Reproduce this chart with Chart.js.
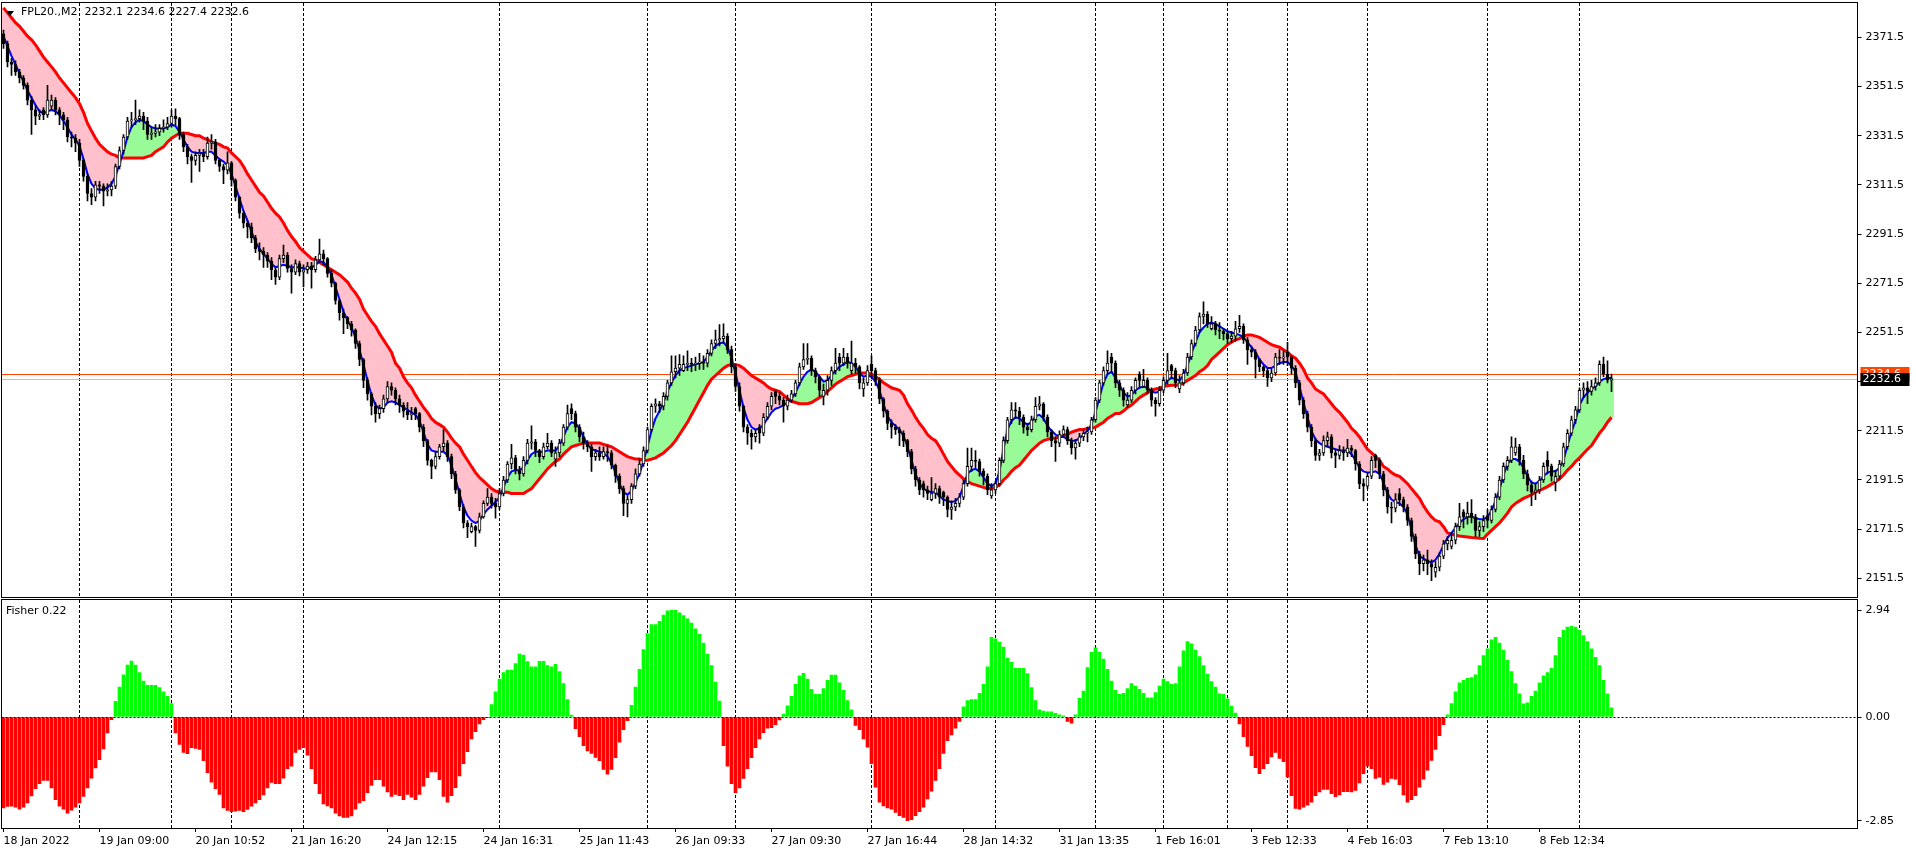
<!DOCTYPE html>
<html><head><meta charset="utf-8">
<script src="https://cdn.jsdelivr.net/npm/chart.js@4.4.0/dist/chart.umd.min.js"></script>
<style>
html,body{margin:0;padding:0;background:#fff;width:1916px;height:854px;overflow:hidden;}
#main{position:absolute;left:0;top:0;width:1916px;height:600px;}
#ind{position:absolute;left:0;top:598px;width:1916px;height:256px;}
.lbl{position:absolute;font:11px "DejaVu Sans",sans-serif;color:#000;white-space:pre;line-height:13px;}
#tri{position:absolute;left:6px;top:11px;width:0;height:0;border-left:4px solid transparent;border-right:4px solid transparent;border-top:5px solid #000;}
</style></head><body>
<canvas id="main" width="1916" height="600"></canvas>
<canvas id="ind" width="1916" height="256"></canvas>
<div id="tri"></div>
<div class="lbl" style="left:21px;top:5px;">FPL20.,M2  2232.1 2234.6 2227.4 2232.6</div>
<div class="lbl" style="left:6px;top:604px;">Fisher 0.22</div>
<script>
const timeLabels = ['18 Jan 2022','19 Jan 09:00','20 Jan 10:52','21 Jan 16:20','24 Jan 12:15','24 Jan 16:31','25 Jan 11:43','26 Jan 09:33','27 Jan 09:30','27 Jan 16:44','28 Jan 14:32','31 Jan 13:35','1 Feb 16:01','3 Feb 12:33','4 Feb 16:03','7 Feb 13:10','8 Feb 12:34'];
const labelBars = [0,24,48,72,96,120,144,168,192,216,240,264,288,312,336,360,384];
const daySeparators = [19,42,57,75,124,161,183,217,248,273,290,306,321,341,371,394];
const totalSlots = 464;
const priceTicks = [2371.5,2351.5,2331.5,2311.5,2291.5,2271.5,2251.5,2231.5,2211.5,2191.5,2171.5,2151.5];
const fisherTicks = [2.94,0.00,-2.85];
const bidPrice = 2232.6, askPrice = 2234.6;

const open = [2373,2369,2361.5,2360.5,2357.5,2355,2352,2346,2342,2339.5,
2342,2340,2343.5,2346,2342,2340,2338,2331,2330.5,2328.5,
2321.5,2315,2308,2306.5,2311.5,2311,2309,2309.5,2311,2319,
2325.5,2331,2337.5,2338,2338.5,2339.5,2337.5,2332,2332.5,2333,
2334.5,2335,2336.5,2339.5,2338.5,2332,2327,2323,2321.5,2323.5,
2324.5,2323,2328.5,2329,2321.5,2319,2317.5,2320.5,2313.5,2306.5,
2300,2296,2294.5,2290,2285.5,2284.5,2283,2280.5,2277,2274,
2281.5,2283,2277.5,2276,2279.5,2276,2277,2278.5,2277,2281,
2283.5,2281.5,2275.5,2271.5,2264.5,2259.5,2257.5,2255,2252.5,2247,
2240.5,2232,2226.5,2221.5,2218.5,2220.5,2224.5,2229.5,2228,2224.5,
2222,2219.5,2218,2220.5,2218.5,2213,2207.5,2199.5,2197,2201,
2205,2206.5,2201,2194,2187.5,2180.5,2174,2170.5,2172.5,2171,
2176.5,2182,2184.5,2182,2180.5,2186,2191.5,2198,2200.5,2195.5,
2194,2199.5,2206.5,2207,2203.5,2201,2205,2206.5,2200,2202.5,
2206.5,2213,2220.5,2218.5,2213,2209,2206.5,2205,2201,2202.5,
2201,2203,2202.5,2197.5,2193,2188,2182,2183.5,2189,2194,
2198,2203.5,2212,2221.5,2222.5,2221.5,2225.5,2231,2235.5,2237,
2236,2238.5,2239,2238.5,2239,2239.5,2239,2243,2247,2248.5,
2249,2250,2244.5,2237.5,2229.5,2221.5,2213,2210.5,2209,2213,
2210.5,2217,2221.5,2227.5,2225.5,2224,2221.5,2224,2226.5,2231,
2237.5,2240.5,2241,2236,2233.5,2225.5,2228,2232,2236,2241.5,
2239,2241.5,2236,2239,2237.5,2228.5,2231,2238.5,2236,2232,
2224.5,2219.5,2214.5,2213,2212,2210.5,2207.5,2203,2196,2191.5,
2190,2187.5,2183.5,2186,2188,2186.5,2184.5,2179.5,2180.5,2182,
2184.5,2190,2197,2199.5,2199,2195,2193,2185,2187.5,2190,
2199.5,2207.5,2216,2220,2219.5,2217,2213,2212,2216,2221.5,
2222.5,2217,2211,2207.5,2206.5,2210,2212,2207.5,2204.5,2206.5,
2209,2210.5,2211,2216,2224,2231,2236,2241.5,2239,2231,
2228,2222,2224,2228,2234.5,2229.5,2232,2228,2224,2222.5,
2228,2232,2238,2236,2228.5,2231,2235,2241.5,2247,2252.5,
2258,2259,2253,2255,2252.5,2252,2251,2249,2250,2253,
2254,2248.5,2244.5,2243.5,2240.5,2237.5,2236,2233,2235,2241.5,
2241,2243.5,2241.5,2237,2231,2224,2218.5,2213,2207.5,2201.5,
2202.5,2207.5,2209,2202.5,2201.5,2203.5,2202.5,2204.5,2203.5,2198,
2190,2189,2193,2201.5,2199.5,2194,2187.5,2180.5,2180,2186,
2183.5,2180.5,2175,2168.5,2161.5,2157.5,2159,2157.5,2154,2156,
2160.5,2165.5,2164.5,2167,2172.5,2178.5,2176.5,2178,2176.5,2171,
2172.5,2177,2175,2179.5,2184.5,2191.5,2197,2199.5,2202.5,2205,
2199.5,2194,2189.5,2186.5,2187.5,2191.5,2199.5,2197,2190.5,2193,
2198,2205,2210.5,2216,2220,2228,2229,2227.5,2229.5,2231,
2238.5,2234.5,2232.1];

const high = [2374.5,2370,2363,2362,2358.5,2356,2353,2347.5,2344,2342,
2343,2352,2348,2347,2343,2341,2339,2333,2332,2330,
2322,2316,2310,2313,2313,2312,2312,2313,2320,2327,
2332,2339,2341,2346,2342,2341,2339,2335,2336,2336,
2338,2339,2342,2342.5,2339,2333,2328,2324,2325,2326,
2326,2331,2332,2330,2322,2320,2325,2321,2314,2307,
2301,2297,2296,2291,2288,2286,2284,2282,2278,2283,
2287,2284,2279,2281,2280.5,2279,2280,2280,2282.5,2289.5,
2285,2282,2277,2272,2265,2261,2258,2256,2253,2248,
2241,2233,2227,2223,2222,2226,2231.5,2231,2229,2226,
2223,2223,2221,2221,2219,2214,2208,2200,2203,2206,
2212,2207.5,2202,2195,2188,2181.5,2175,2174,2173,2178,
2183,2188,2186,2184,2188,2193,2199,2206,2201.5,2197,
2201,2208,2213.5,2208,2204,2206.5,2210.5,2207.5,2205,2208,
2214,2222,2222.5,2219.5,2214,2211,2207.5,2206,2204,2205,
2205,2205.5,2203.5,2198,2194,2189,2185,2190,2196,2200,
2205,2213,2222.5,2224.5,2223.5,2227,2232,2242,2242,2242.5,
2242,2244,2241,2241.5,2243,2242,2244.5,2248.5,2252.5,2254.7,
2255,2251,2246,2238.5,2231,2222,2214,2212,2212,2214,
2218.5,2223,2227,2228,2227,2225,2226,2228,2232,2239,
2247,2247,2242,2237,2234,2230.5,2234,2237.5,2245,2243,
2245,2243,2248,2241,2238,2233,2238,2242,2237,2233,
2225,2220,2216,2214,2213,2211.5,2208,2204,2197,2192.5,
2191,2189,2192.5,2190,2189,2187,2185,2183,2184,2186,
2191.5,2204.5,2204.5,2203.5,2200,2196,2194,2190,2191,2200.5,
2209,2217,2223,2223,2221,2218,2214.5,2217.5,2225,2225.5,
2223,2218,2212,2209,2211.5,2213.5,2213,2208.5,2208,2210.5,
2212,2213,2217,2225,2232,2237.5,2244,2243,2240,2232,
2229,2227,2229.5,2233,2235.5,2236.5,2233,2229,2225,2229.5,
2233.5,2243,2238.5,2237,2234,2236.5,2243,2248.5,2254,2259.5,
2264,2260,2258,2256,2255.5,2253,2252,2252,2256,2258.5,
2255,2249.5,2246,2244.5,2241,2238,2237,2236.5,2243,2244.5,
2244,2247.5,2242,2238,2232,2225,2219.5,2214,2208.5,2204,
2209.5,2211,2210,2204,2205.5,2205,2208,2205.5,2204,2199,
2192,2194.5,2201,2202,2200.5,2195,2188.5,2182.5,2186,2188,
2184.5,2181.5,2176,2169.5,2162.5,2161,2163,2159,2158.5,2162,
2167,2168.5,2170,2174,2182,2179.5,2182.5,2183.5,2177.5,2174.5,
2177,2179.5,2181,2186,2193,2198.5,2201,2209,2208.5,2206,
2201.5,2195.5,2191,2190,2193,2198.5,2203,2198,2195.5,2199.5,
2206.5,2212,2217.5,2221.5,2229,2231,2231.5,2232,2233,2240,
2241.5,2240,2234.6];

const low = [2367,2359.5,2356,2356,2353,2350.5,2344,2332,2336,2338,
2338,2339,2342,2340,2336,2334,2329,2327,2325,2319,
2313,2305,2303.5,2305,2308,2303,2307,2307,2310,2318,
2324,2330,2335,2336,2337,2334,2330,2330,2331,2331.5,
2333,2334,2335,2336,2330,2325,2320,2312.5,2319.5,2317,
2321,2322,2326,2320,2317,2312,2316,2311,2305,2298,
2294,2290,2288,2284,2281,2278,2278,2273,2271,2273,
2280,2276,2267.5,2275,2274.5,2270,2275.5,2269.5,2276,2280,
2279,2274,2270,2263,2256.5,2251,2253,2250,2245,2238,
2229,2224,2218,2215,2216.5,2219,2223,2226,2222,2219,
2217,2216,2216,2216,2211,2205,2197.5,2192,2196,2200,
2203,2199,2192,2186,2179,2172,2168,2170,2164.5,2170,
2176,2181,2180,2176,2179.5,2185,2190.5,2196,2194,2191.5,
2193,2198,2204,2201,2198.5,2200,2204,2201,2197,2201,
2205.5,2212,2216,2211,2207,2204,2203,2195,2199.5,2199.5,
2200,2199,2196,2190.5,2186,2177,2176.5,2182,2188,2193,
2197,2202.5,2211,2219,2219,2220,2224,2230,2233,2234,
2235.5,2236,2235.5,2236,2236.5,2236.5,2237.5,2242,2245,2246,
2247,2243,2235,2227.5,2219.5,2211,2206,2204,2207,2206.5,
2209.5,2216,2220,2222.5,2222,2215,2220,2223,2225.5,2230,
2236.5,2238.5,2234,2231,2225.5,2222,2226,2230,2234.5,2236,
2238,2237,2234.5,2235,2228.5,2225.5,2230,2233,2230,2222.5,
2217,2212,2208.5,2210,2205.5,2205,2201,2194,2189,2185.5,
2184.5,2183.5,2183,2184,2182,2181,2176.5,2175.5,2179,2180.5,
2183.5,2189,2195,2196.5,2193,2189.5,2185.5,2184,2186,2189,
2198.5,2206.5,2214.5,2216.5,2214,2210.5,2209.5,2211,2215,2220,
2215.5,2209,2205,2199,2205,2209,2206,2202,2200,2205,
2207.5,2207,2210,2215,2223,2230,2234.5,2235,2229,2225.5,
2221.5,2221,2223,2226.5,2229,2229,2226.5,2221.5,2217.5,2221.5,
2227,2230.5,2233,2229,2227,2230,2234,2240.5,2246,2251.5,
2255,2253.5,2252.5,2250.5,2249,2248.5,2247,2247.5,2248,2251.5,
2247,2238.5,2241.5,2233,2235.5,2233.5,2229.5,2231.5,2234,2238.5,
2238.5,2238,2234.5,2229,2222,2216.5,2211,2205,2199.5,2199.5,
2201.5,2205,2200.5,2196.5,2200,2199.5,2201,2201,2195.5,2188,
2183,2188,2192,2196.5,2192,2185,2178,2174,2178.5,2181,
2178.5,2173,2166.5,2159.5,2153,2154.5,2153,2150.5,2152,2154.5,
2159.5,2163,2163.5,2165.5,2171,2172,2173.5,2174,2168.5,2168.5,
2170.5,2172,2174,2178.5,2183.5,2190.5,2195.5,2198.5,2201.5,2197.5,
2192,2187,2181,2183.5,2186,2190.5,2194,2191,2187,2191.5,
2197,2204,2209.5,2214.5,2219,2225,2222.5,2226,2228,2230,
2233.5,2231,2227.4];

const close = [2369,2361.5,2360.5,2357.5,2355,2352,2346,2342,2339.5,2340,
2340,2346,2346,2342,2340,2338,2331,2330.5,2328.5,2321.5,
2315,2308,2306.5,2311.5,2311,2309,2309.5,2311,2319,2325.5,
2331,2337.5,2338,2338.5,2339.5,2337.5,2332,2332.5,2333,2334.5,
2335,2336.5,2339.5,2338.5,2332,2327,2323,2321.5,2323.5,2324.5,
2323,2328.5,2329,2321.5,2319,2317.5,2320.5,2313.5,2306.5,2300,
2296,2294.5,2290,2285.5,2284.5,2283,2280.5,2277,2274,2281.5,
2283,2277.5,2276,2279.5,2276,2277,2278.5,2277,2281,2283.5,
2281.5,2275.5,2271.5,2264.5,2259.5,2257.5,2255,2252.5,2247,2240.5,
2232,2226.5,2221.5,2218.5,2220.5,2224.5,2229.5,2228,2224.5,2222,
2219.5,2218,2218.5,2218.5,2213,2207.5,2199.5,2197,2201,2205,
2206.5,2201,2194,2187.5,2180.5,2174,2172.5,2172.5,2171,2176.5,
2182,2184.5,2182,2180.5,2186,2191.5,2198,2200.5,2195.5,2194,
2199.5,2206.5,2207,2203.5,2201,2205,2206.5,2202.5,2202.5,2206.5,
2213,2218.5,2218.5,2213,2209,2206.5,2205,2201,2202.5,2201,
2203,2202.5,2197.5,2193,2188,2182,2183.5,2189,2194,2198,
2203.5,2212,2221.5,2222.5,2221.5,2225.5,2231,2235.5,2237,2238.5,
2238.5,2239,2238.5,2239,2239.5,2239,2243,2247,2248.5,2249,
2250,2244.5,2237.5,2229.5,2221.5,2213,2210.5,2209,2210.5,2210.5,
2217,2221.5,2225.5,2225.5,2224,2221.5,2224,2226.5,2231,2237.5,
2240.5,2241,2236,2233.5,2228,2228,2232,2236,2239,2239,
2241.5,2239,2239,2237.5,2231,2231,2236,2236,2232,2224.5,
2219.5,2214.5,2213,2212,2210.5,2207.5,2203,2196,2191.5,2187.5,
2187.5,2186,2186,2188,2184.5,2184.5,2179.5,2180.5,2182,2184.5,
2190,2197,2199.5,2199,2195,2193,2187.5,2187.5,2190,2199.5,
2207.5,2216,2220,2219.5,2217,2213,2212,2216,2221.5,2222.5,
2217,2211,2207.5,2206.5,2210,2212,2207.5,2204.5,2206.5,2209,
2210.5,2211,2216,2224,2231,2236,2239,2239,2231,2228,
2224,2224,2228,2232,2232,2232,2228,2224,2222.5,2228,
2232,2236,2236,2231,2231,2235,2241.5,2247,2252.5,2258,
2259,2255,2255,2252.5,2252,2251,2249,2250,2253,2254,
2248.5,2244.5,2243.5,2240.5,2237.5,2236,2233,2235,2241.5,2241,
2241.5,2241.5,2237,2231,2224,2218.5,2213,2207.5,2201.5,2202.5,
2207.5,2209,2202.5,2201.5,2203.5,2202.5,2204.5,2203.5,2198,2190,
2189,2193,2199.5,2199.5,2194,2187.5,2180.5,2180,2183.5,2183.5,
2180.5,2175,2168.5,2161.5,2157.5,2159,2157.5,2156,2156,2160.5,
2165.5,2167,2167,2172.5,2176.5,2176.5,2178,2176.5,2171,2172.5,
2175,2175,2179.5,2184.5,2191.5,2197,2199.5,2205,2205,2199.5,
2194,2189.5,2186.5,2187.5,2191.5,2197,2197,2193,2193,2198,
2205,2210.5,2216,2220,2228,2229,2227.5,2229.5,2231,2238.5,
2234.5,2232.1,2232.6];

const fast = [2372,2368,2364,2360.5,2357,2353.5,2350,2347,2344,2341.5,
2340.5,2341.5,2342,2341.5,2340,2337.5,2335,2332,2330,2327.5,
2322,2316,2312,2310,2309.5,2309.5,2310.5,2312,2315,2320,
2325,2331,2335,2337,2338,2337.5,2336,2335,2334.5,2334.5,
2334.5,2335,2336,2335.5,2333,2330,2327,2325,2324.5,2324.5,
2324.5,2325,2325,2323.5,2322,2321,2319.5,2316,2311,2306,
2301,2297,2292.5,2288.5,2285.5,2283.5,2281.5,2279.5,2278,2278.5,
2279,2278.5,2278,2278,2278,2277.5,2277.5,2278,2279,2280.5,
2280,2278,2275,2270,2265,2260,2256.5,2253.5,2249.5,2244.5,
2238.5,2232,2226,2222,2220.5,2221,2223,2223.5,2223,2222,
2221,2220,2219,2218,2215.5,2211,2206,2203.5,2203,2203,
2203,2201.5,2197.5,2192,2186,2180.5,2177,2175,2174,2175,
2177.5,2179.5,2181,2182.5,2184.5,2188.5,2192.5,2195,2195.5,2195.5,
2196.5,2199.5,2202,2203,2203,2203,2203.5,2203.5,2203.5,2205.5,
2209,2213,2215,2214.5,2212.5,2209,2206,2204,2203.5,2203,
2202.5,2201,2198.5,2194.5,2190,2186.5,2185.5,2187,2190.5,2194,
2199,2205,2211.5,2216.5,2219.5,2223,2227.5,2231,2234,2236,
2237,2237.5,2238,2238.5,2239,2239.5,2241.5,2244,2246,2247,
2247.5,2245.5,2241,2235,2228,2221,2216,2213,2212,2212.5,
2214,2216.5,2219,2220.5,2221,2222,2223,2224.5,2227,2230.5,
2233.5,2235.5,2236.5,2235.5,2233.5,2231.5,2232,2234,2236,2237.5,
2238.5,2239.5,2239,2237.5,2235,2233.5,2234,2233.5,2231.5,2228,
2222.5,2217.5,2215,2213.5,2212,2209.5,2205,2199.5,2194,2190,
2188,2187,2186.5,2186.5,2185,2183.5,2183,2182.5,2183,2184.5,
2189,2194,2195.5,2196,2195,2192.5,2190,2189,2190,2195,
2204,2212,2215.5,2217,2216.5,2215,2214,2215,2217.5,2218,
2216.5,2213.5,2211.5,2210,2209,2209,2208,2207.5,2207.5,2208.5,
2210,2211.5,2214,2219,2225,2231,2234.5,2235.5,2233,2230,
2227,2225.5,2226,2228,2229,2229.5,2229,2227.5,2227,2227.5,
2229.5,2232,2233,2232.5,2232,2234,2238,2243,2247.5,2251.5,
2253.5,2255,2255.5,2255,2254,2253,2252,2251.5,2251,2250.5,
2249.5,2247.5,2245.5,2243.5,2240.5,2238.5,2237,2237,2238,2239,
2239.5,2239.5,2238,2235.5,2229.5,2223,2217,2211.5,2208,2206.5,
2205.5,2205,2204.5,2204,2203.5,2203.5,2203.5,2202,2199.5,2196.5,
2195,2194.5,2194.5,2195,2194,2190.5,2186,2183.5,2182.5,2182,
2180.5,2177.5,2171.5,2165,2160.5,2159.5,2158.5,2158,2159,2161.5,
2165,2168,2170,2172,2174,2175.5,2176.5,2176.5,2176,2175.5,
2175.5,2176.5,2179,2183,2187.5,2193.5,2198,2200,2200,2199,
2196.5,2193,2190.5,2190,2191,2193,2194.5,2195,2195,2196.5,
2199.5,2205.5,2211,2215.5,2222,2225,2227,2228.5,2229.5,2231.5,
2232.5,2233,2233];

const slow = [2383.5,2381.5,2379.5,2377.5,2376,2374,2372,2370.5,2368.5,2366,
2363.5,2361.5,2359.5,2357.5,2355,2353,2351,2349,2347,2344.5,
2341,2336.5,2333.5,2330.5,2328,2326.5,2325,2324,2323.5,2322.5,
2322.5,2322.5,2322.5,2322.5,2322.5,2322.5,2323,2323.5,2325,2326,
2327,2329,2330.5,2331.5,2332.5,2332.5,2332.5,2332,2331.5,2331.5,
2330.5,2330,2329,2328.5,2328,2327,2326.5,2324.5,2323,2321.5,
2319,2316,2313.5,2311,2308.5,2307,2304.5,2302,2300,2298.5,
2296,2293,2290.5,2288.5,2286,2284.5,2283,2281.5,2281,2280,
2279,2278,2277,2276,2275,2273.5,2272,2269.5,2267.5,2265,
2261,2258.5,2256,2254,2251,2248.5,2246,2243.5,2239,2237,
2233.5,2231,2229,2226,2223.5,2221,2219,2216.5,2215,2214,
2213,2211,2208.5,2206.5,2205,2202,2199.5,2197,2194.5,2192.5,
2191,2189.5,2188,2187,2186.5,2186.5,2186.5,2186,2186,2186,
2186,2187,2188,2190,2192,2194,2196,2197.5,2199,2200,
2202,2203.5,2205,2205.5,2206,2206.5,2206.5,2206.5,2206.5,2206.5,
2206,2205.5,2205,2204,2203,2202,2201,2200.5,2200,2200,
2199.5,2199.5,2200,2200.5,2201.5,2202.5,2204,2205.5,2207.5,2210,
2212.5,2215,2218,2221,2224,2227,2230,2232.5,2234,2235.5,
2237,2238,2238.5,2238.5,2238,2237,2235.5,2234,2233,2232,
2231,2229.5,2228.5,2228,2227.5,2226,2224.5,2223.5,2223,2222.5,
2222.5,2222.5,2223,2224,2225,2226,2227.5,2229,2230.5,2231.5,
2232.5,2233.5,2234,2234.5,2235,2235,2235,2234.5,2233.5,2232.5,
2231,2230,2229,2228.5,2228,2226,2222.5,2220,2217,2214.5,
2212.5,2210,2208.5,2207.5,2205,2202,2199,2197,2195,2193.5,
2192,2191,2190,2189.5,2189,2188.5,2188,2188,2188.5,2189.5,
2191.5,2193,2195,2196.5,2197.5,2199.5,2201.5,2203.5,2205,2206.5,
2207.5,2208,2208.5,2208.5,2209,2209.5,2210,2211,2211.5,2212,
2212,2212.5,2212.5,2213,2214,2215,2216.5,2217.5,2218.5,2218.5,
2219.5,2221,2222,2223.5,2225,2226,2227,2228,2228.5,2228.8,
2229.5,2229.8,2230,2230,2230.2,2231,2232,2233,2234,2235.5,
2236.5,2238,2240.5,2242,2243.5,2245,2246.5,2247.5,2248.5,2249,
2250,2250.5,2250.5,2250,2249.5,2248.5,2247.5,2246.5,2246,2245.5,
2244.5,2243.5,2242,2241,2239,2236.5,2233,2231,2228.5,2227.5,
2226.5,2224.5,2222.5,2220.5,2219,2217,2215,2212.5,2211,2209,
2206.5,2204,2202.5,2201,2199.5,2197,2196,2194.5,2193.5,2193,
2191.5,2190,2188,2186,2184,2181,2178.5,2176.5,2175,2174.5,
2172.5,2170,2169.5,2169,2168.7,2168.5,2168.3,2168.1,2168,2167.8,
2167.7,2169.5,2171,2172.5,2174,2176,2178,2180.5,2182,2183,
2184,2184.7,2185.5,2186.5,2187.3,2188,2188.8,2189.8,2190.8,2192,
2193.5,2195.5,2197,2199,2200.5,2202.3,2204,2205.5,2208,2210.5,
2212.5,2215,2217];

const fisher = [-2.50,-2.46,-2.45,-2.48,-2.53,-2.48,-2.36,-2.17,-1.97,-1.83,
-1.74,-1.74,-1.95,-2.27,-2.45,-2.53,-2.64,-2.56,-2.48,-2.36,
-2.18,-1.95,-1.68,-1.40,-1.17,-0.88,-0.44,-0.07,0.43,0.82,
1.16,1.43,1.54,1.43,1.22,0.99,0.87,0.87,0.87,0.81,
0.69,0.57,0.37,-0.44,-0.75,-0.97,-1.01,-0.84,-0.86,-0.89,
-1.20,-1.53,-1.79,-1.97,-2.13,-2.50,-2.57,-2.60,-2.59,-2.57,
-2.60,-2.54,-2.45,-2.36,-2.27,-2.14,-1.95,-1.80,-1.83,-1.83,
-1.68,-1.42,-1.35,-0.97,-0.89,-0.84,-1.05,-1.42,-1.83,-2.11,
-2.39,-2.44,-2.50,-2.64,-2.72,-2.76,-2.76,-2.72,-2.53,-2.36,
-2.30,-2.08,-1.88,-1.72,-1.72,-1.90,-2.06,-2.18,-2.13,-2.16,
-2.27,-2.13,-2.20,-2.27,-2.13,-1.90,-1.67,-1.51,-1.51,-1.72,
-2.18,-2.34,-2.16,-1.94,-1.62,-1.28,-0.95,-0.60,-0.40,-0.19,
-0.07,-0.02,0.34,0.69,1.04,1.22,1.29,1.29,1.47,1.73,
1.70,1.52,1.38,1.38,1.53,1.53,1.41,1.38,1.45,1.25,
0.92,0.48,0.05,-0.32,-0.54,-0.79,-0.93,-1.00,-1.11,-1.20,
-1.44,-1.57,-1.44,-1.12,-0.69,-0.35,-0.10,0.32,0.82,1.31,
1.85,2.29,2.54,2.54,2.63,2.80,2.92,2.94,2.93,2.86,
2.79,2.70,2.58,2.42,2.27,2.03,1.73,1.41,0.96,0.44,
-0.79,-1.35,-1.83,-2.08,-1.95,-1.69,-1.42,-1.12,-0.84,-0.60,
-0.43,-0.31,-0.29,-0.21,-0.08,0.08,0.31,0.57,0.90,1.13,
1.20,1.04,0.76,0.62,0.62,0.78,1.01,1.15,1.15,0.94,
0.73,0.45,0.20,-0.23,-0.35,-0.60,-0.83,-1.28,-1.93,-2.34,
-2.44,-2.50,-2.53,-2.62,-2.71,-2.76,-2.85,-2.82,-2.71,-2.60,
-2.48,-2.25,-2.04,-1.74,-1.42,-1.00,-0.65,-0.49,-0.31,-0.12,
0.28,0.45,0.48,0.48,0.65,0.90,1.38,2.19,2.15,2.06,
1.92,1.62,1.50,1.34,1.34,1.34,1.19,0.81,0.45,0.20,
0.16,0.14,0.14,0.10,0.06,0.03,-0.12,-0.17,0.06,0.51,
0.71,1.36,1.78,1.90,1.78,1.59,1.31,0.99,0.73,0.62,
0.65,0.78,0.92,0.85,0.76,0.65,0.53,0.53,0.67,0.85,
1.04,0.97,0.90,0.92,1.38,1.82,2.07,2.01,1.84,1.66,
1.41,1.18,0.97,0.82,0.64,0.62,0.50,0.30,0.11,-0.19,
-0.54,-0.81,-1.06,-1.39,-1.56,-1.42,-1.28,-1.10,-0.97,-1.14,
-1.23,-1.65,-2.16,-2.51,-2.53,-2.48,-2.42,-2.34,-2.16,-2.06,
-1.99,-1.99,-2.11,-2.19,-2.14,-2.05,-2.05,-2.06,-2.02,-1.81,
-1.56,-1.35,-1.42,-1.69,-1.65,-1.85,-1.79,-1.69,-1.71,-1.86,
-2.14,-2.34,-2.27,-2.16,-1.93,-1.71,-1.46,-1.19,-0.89,-0.51,
-0.21,0.06,0.37,0.69,0.94,1.01,1.06,1.08,1.16,1.41,
1.69,1.87,2.12,2.19,2.03,1.84,1.56,1.25,0.92,0.64,
0.36,0.39,0.57,0.71,0.94,1.13,1.22,1.34,1.69,2.19,
2.38,2.47,2.49,2.47,2.38,2.24,2.07,1.87,1.64,1.41,
1.01,0.64,0.25];

const cats = new Array(totalSlots).fill('');
labelBars.forEach((b, k) => { cats[b] = timeLabels[k]; });

const bodyColors = close.map((c, i) => c >= open[i] ? '#FFFFFF' : '#000000');
const fillColors = fast.map((f, i) => f >= slow[i] ? '#98FB98' : '#FFC0CB');
const fisherColors = fisher.map(v => v >= 0 ? '#00FF00' : '#FF0000');

Chart.defaults.font.family = '"DejaVu Sans", sans-serif';
Chart.defaults.font.size = 11;
Chart.defaults.color = '#000';

function separators(chart) {
  const {ctx, chartArea: a, scales: {x}} = chart;
  ctx.save();
  ctx.strokeStyle = '#000';
  ctx.lineWidth = 1;
  ctx.setLineDash([3, 2]);
  daySeparators.forEach(b => {
    const px = Math.floor(x.getPixelForValue(b)) + 0.5;
    ctx.beginPath(); ctx.moveTo(px, a.top); ctx.lineTo(px, a.bottom); ctx.stroke();
  });
  ctx.restore();
}
function frame(chart) {
  const {ctx, chartArea: a} = chart;
  ctx.save();
  ctx.strokeStyle = '#000'; ctx.lineWidth = 1; ctx.setLineDash([]);
  const l = Math.floor(a.left) + 0.5, t = Math.floor(a.top) - 0.5;
  const r = Math.floor(a.right) + 0.5, btm = Math.floor(a.bottom) + 0.5;
  ctx.strokeRect(l, t, r - l, btm - t);
  ctx.restore();
}

const mainPlugin = {
  id: 'mainDeco',
  beforeDatasetsDraw(chart) {
    separators(chart);
    const {ctx, chartArea: a, scales: {y}} = chart;
    ctx.save();
    const ya = Math.round(y.getPixelForValue(askPrice)) + 0.5;
    const yb = Math.round(y.getPixelForValue(bidPrice)) + 0.5;
    ctx.lineWidth = 1;
    ctx.strokeStyle = '#C0C0C0';
    ctx.beginPath(); ctx.moveTo(a.left, yb); ctx.lineTo(a.right, yb); ctx.stroke();
    ctx.strokeStyle = '#FF4500';
    ctx.beginPath(); ctx.moveTo(a.left, ya); ctx.lineTo(a.right, ya); ctx.stroke();
    ctx.restore();
  },
  afterDraw(chart) {
    frame(chart);
    const {ctx, chartArea: a, scales: {y}} = chart;
    const ya = y.getPixelForValue(askPrice), yb = y.getPixelForValue(bidPrice);
    ctx.save();
    ctx.font = '11px "DejaVu Sans"';
    ctx.textBaseline = 'middle';
    ctx.fillStyle = '#FF4500';
    ctx.fillRect(a.right + 3, Math.round(ya) - 7, 49, 14);
    ctx.fillStyle = '#FFFFFF';
    ctx.fillText(askPrice.toFixed(1), a.right + 5, ya + 0.5);
    ctx.fillStyle = '#000000';
    ctx.fillRect(a.right + 3, Math.round(yb) - 6, 49, 13);
    ctx.fillStyle = '#FFFFFF';
    ctx.fillText(bidPrice.toFixed(1), a.right + 5, yb + 0.5);
    ctx.restore();
  }
};

const indPlugin = {
  id: 'indDeco',
  beforeDatasetsDraw(chart) {
    separators(chart);
  },
  afterDatasetsDraw(chart) {
    const {ctx, chartArea: a, scales: {y}} = chart;
    const y0 = Math.round(y.getPixelForValue(0)) + 0.5;
    ctx.save();
    ctx.strokeStyle = '#000'; ctx.lineWidth = 1; ctx.setLineDash([2, 2]);
    ctx.beginPath(); ctx.moveTo(a.left, y0); ctx.lineTo(a.right, y0); ctx.stroke();
    ctx.restore();
  },
  afterDraw(chart) { frame(chart); }
};

const yAxisFit = s => { s.width = 58.5; s.paddingTop = 0; s.paddingBottom = 0; };

new Chart(document.getElementById('main'), {
  type: 'bar',
  data: {
    labels: cats,
    datasets: [
      { label: 'bodies', data: open.map((o, i) => [o, close[i]]), backgroundColor: bodyColors,
        borderColor: '#000', borderWidth: 1, borderSkipped: false, barThickness: 3, grouped: false, order: 0 },
      { label: 'wicks', data: low.map((l, i) => [l, high[i]]), backgroundColor: '#000',
        borderWidth: 0, barThickness: 1, grouped: false, order: 1 },
      { type: 'line', label: 'fast', data: fast, borderColor: '#0000FF', borderWidth: 2,
        pointRadius: 0, tension: 0, fill: false, order: 2 },
      { type: 'line', label: 'slow', data: slow, borderColor: '#FF0000', borderWidth: 3,
        pointRadius: 0, tension: 0, fill: false, order: 2 },
      { label: 'band', data: slow.map((s, i) => [s, fast[i]]), backgroundColor: fillColors,
        borderWidth: 0, barPercentage: 1, categoryPercentage: 1, grouped: false, order: 3 }
    ]
  },
  options: {
    responsive: false, animation: false, devicePixelRatio: 1, events: [],
    layout: { padding: { left: 1.5, top: 3, right: 0, bottom: 3 } },
    plugins: { legend: { display: false }, tooltip: { enabled: false } },
    scales: {
      x: { type: 'category', display: false, offset: true },
      y: {
        position: 'right', min: 2143.9, max: 2385.5,
        afterBuildTicks: s => { s.ticks = priceTicks.map(v => ({ value: v })); },
        afterFit: yAxisFit,
        ticks: { padding: 4, color: '#000', font: { size: 11 }, callback: v => Number(v).toFixed(1) },
        grid: { drawOnChartArea: false, drawTicks: true, tickLength: 4, color: '#000' },
        border: { display: false }
      }
    }
  },
  plugins: [mainPlugin]
});

new Chart(document.getElementById('ind'), {
  type: 'bar',
  data: {
    labels: cats,
    datasets: [
      { label: 'Fisher', data: fisher, backgroundColor: fisherColors, borderWidth: 0,
        barThickness: 3, grouped: false }
    ]
  },
  options: {
    responsive: false, animation: false, devicePixelRatio: 1, events: [],
    layout: { padding: { left: 1.5, top: 2, right: 0, bottom: 0 } },
    plugins: { legend: { display: false }, tooltip: { enabled: false } },
    scales: {
      x: {
        type: 'category', offset: true,
        afterBuildTicks: s => { s.ticks = labelBars.map(v => ({ value: v })); },
        afterFit: s => { s.height = 26; s.paddingLeft = 0; s.paddingRight = 0; },
        ticks: { autoSkip: false, maxRotation: 0, minRotation: 0, align: 'start', padding: 3,
                 color: '#000', font: { size: 11 }, callback: v => cats[v] },
        grid: { drawOnChartArea: false, drawTicks: true, tickLength: 4, color: '#000', offset: false },
        border: { display: false }
      },
      y: {
        position: 'right', min: -3.05, max: 3.215,
        afterBuildTicks: s => { s.ticks = fisherTicks.map(v => ({ value: v })); },
        afterFit: yAxisFit,
        ticks: { padding: 4, color: '#000', font: { size: 11 }, callback: v => Number(v).toFixed(2) },
        grid: { drawOnChartArea: false, drawTicks: true, tickLength: 4, color: '#000' },
        border: { display: false }
      }
    }
  },
  plugins: [indPlugin]
});
</script>
</body></html>
